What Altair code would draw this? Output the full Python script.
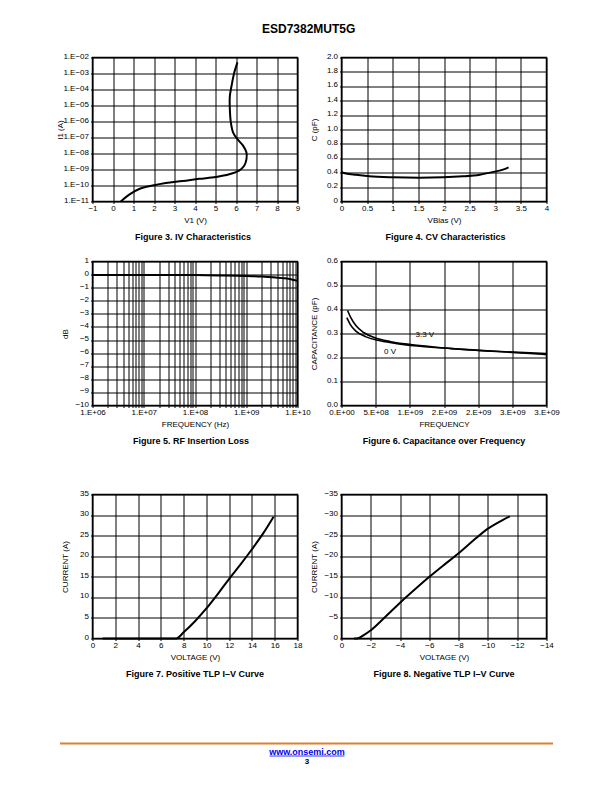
import altair as alt
import pandas as pd

FONT = "Liberation Sans"
W, H = 205, 144

# ---------------- data ----------------
# Figure 3: IV characteristics (curve order matters)
iv_v = [0.38, 0.79, 1.28, 1.93, 2.58, 3.39, 4.2, 5.02, 5.67, 6.15, 6.4, 6.51, 6.51, 6.35, 6.07, 5.86, 5.75, 5.70, 5.70, 5.78, 5.91, 6.07]
iv_i = [1e-11, 2.7e-11, 6e-11, 1.0e-10, 1.45e-10, 1.9e-10, 2.6e-10, 3.4e-10, 5e-10, 8.5e-10, 1.7e-9, 4.5e-9,
        1.15e-8, 3e-8, 7.8e-8, 2e-7, 8.5e-7, 5.7e-6, 3.8e-5, 1.6e-4, 1.07e-3, 5e-3]
iv_xticks = [-1, 0, 1, 2, 3, 4, 5, 6, 7, 8, 9]
iv_yticks = [1e-11, 1e-10, 1e-9, 1e-8, 1e-7, 1e-6, 1e-5, 1e-4, 1e-3, 1e-2]
iv_ylabels = ["1.E\u221211", "1.E\u221210", "1.E\u221209", "1.E\u221208", "1.E\u221207",
              "1.E\u221206", "1.E\u221205", "1.E\u221204", "1.E\u221203", "1.E\u221202"]

# Figure 4: CV characteristics
cv_v = [0, 0.085, 0.28, 0.54, 1.0, 1.52, 1.98, 2.37, 2.7, 2.99, 3.15, 3.26]
cv_c = [0.406, 0.39, 0.37, 0.35, 0.336, 0.331, 0.336, 0.35, 0.373, 0.415, 0.443, 0.475]
cv_xticks = [0, 0.5, 1, 1.5, 2, 2.5, 3, 3.5, 4]
cv_yticks = [0, 0.2, 0.4, 0.6, 0.8, 1.0, 1.2, 1.4, 1.6, 1.8, 2.0]

# Figure 5: RF insertion loss
rf_f = [1e6, 1e7, 1e8, 3e8, 1e9, 2e9, 3e9, 5e9, 7e9, 1e10]
rf_db = [-0.03, -0.03, -0.04, -0.06, -0.1, -0.15, -0.2, -0.27, -0.33, -0.48]
rf_decades = [1e6, 1e7, 1e8, 1e9, 1e10]
rf_decade_labels = ["1.E+06", "1.E+07", "1.E+08", "1.E+09", "1.E+10"]
rf_grid = [k * 10 ** n for n in range(6, 10) for k in range(1, 10)] + [10 ** 10]
rf_yticks = list(range(-10, 2))

# Figure 6: capacitance over frequency
cf_f_33 = [0.088e9, 0.136e9, 0.21e9, 0.33e9, 0.48e9, 0.72e9, 1.01e9, 1.35e9, 1.84e9, 2.33e9, 3.0e9]
cf_c_33 = [0.396, 0.366, 0.333, 0.303, 0.283, 0.266, 0.254, 0.244, 0.233, 0.225, 0.216]
cf_f_0 = [0.078e9, 0.127e9, 0.21e9, 0.36e9, 0.53e9, 0.77e9, 1.11e9, 1.6e9, 2.13e9, 2.57e9, 3.0e9]
cf_c_0 = [0.366, 0.338, 0.31, 0.286, 0.272, 0.26, 0.248, 0.237, 0.227, 0.22, 0.212]
cf_xticks = [0, 5e8, 1e9, 1.5e9, 2e9, 2.5e9, 3e9]
cf_xlabels = ["0.E+00", "5.E+08", "1.E+09", "2.E+09", "2.E+09", "3.E+09", "3.E+09"]
cf_yticks = [0, 0.1, 0.2, 0.3, 0.4, 0.5, 0.6]
cf_ann_text = ["3.3 V", "0 V"]
cf_ann_f = [1.22e9, 0.71e9]
cf_ann_c = [0.293, 0.221]

# Figure 7: positive TLP
ptlp_v = [0.9, 7.35, 8.0, 9.0, 10.0, 11.0, 12.0, 13.0, 14.0, 15.0, 15.9]
ptlp_i = [0, 0, 1.5, 4.2, 7.3, 10.8, 14.5, 18.0, 21.7, 25.6, 29.6]
ptlp_xticks = list(range(0, 19, 2))
ptlp_yticks = list(range(0, 36, 5))

# Figure 8: negative TLP
ntlp_v = [-0.85, -1.05, -1.6, -2.0, -3.0, -4.0, -5.0, -6.0, -7.0, -8.0, -9.0, -10.0, -11.0, -11.5]
ntlp_i = [0, 0, -1.0, -2.0, -5.3, -8.7, -11.9, -15.0, -17.9, -20.7, -23.8, -26.7, -28.8, -29.7]
ntlp_xticks = list(range(0, -15, -2))
ntlp_yticks = list(range(0, -36, -5))

captions = ["Figure 3. IV Characteristics", "Figure 4. CV Characteristics",
            "Figure 5. RF Insertion Loss", "Figure 6. Capacitance over Frequency",
            "Figure 7. Positive TLP I\u2013V Curve", "Figure 8. Negative TLP I\u2013V Curve"]
page_title = "ESD7382MUT5G"
footer_url = "www.onsemi.com"
footer_page = "3"

# ---------------- helpers ----------------
def chained(values, labels):
    expr = "''"
    for v, l in reversed(list(zip(values, labels))):
        expr = f"abs(datum.value - {v!r}) < {abs(v) * 1e-6 + 1e-30!r} ? '{l}' : ({expr})"
    return expr


def xax(title, values, **kw):
    return alt.Axis(title=title, values=values, titleX=W / 2, titleY=19, titleBaseline="middle",
                    titleAlign="center", labelFlush=False, labelOverlap=False, labelPadding=1, **kw)


def yax(title, values, tx=-27.5, **kw):
    return alt.Axis(title=title, values=values, titleX=tx, titleY=H / 2, titleAngle=270,
                    titleBaseline="middle", titleAlign="center", labelOverlap=False, labelFlush=False,
                    labelPadding=2, labelOffset=-1.5, **kw)


def cap(text, dx=0):
    return alt.TitleParams(text, orient="bottom", anchor="middle", frame="group", font=FONT, fontSize=9,
                           fontWeight="bold", color="black", offset=8, dx=dx)


def framed(ch, text, dx=0):
    return ch.properties(width=W, height=H, title=cap(text, dx),
                         view=alt.ViewBackground(stroke="black", strokeWidth=1.5))

# ---------------- Figure 3 ----------------
df3 = pd.DataFrame({"v": iv_v, "i": iv_i, "k": list(range(len(iv_v)))})
c3 = alt.Chart(df3).mark_line(color="black", strokeWidth=2, interpolate="catmull-rom").encode(
    x=alt.X("v:Q", scale=alt.Scale(domain=[-1, 9], nice=False, zero=False), axis=xax("V1 (V)", iv_xticks, format="d")),
    y=alt.Y("i:Q", scale=alt.Scale(type="log", domain=[1e-11, 1e-2]),
            axis=yax("I1 (A)", iv_yticks, tx=-32.5, labelExpr=chained(iv_yticks, iv_ylabels))),
    order="k:Q",
)
c3 = framed(c3, captions[0], -2)

# ---------------- Figure 4 ----------------
df4 = pd.DataFrame({"v": cv_v, "c": cv_c})
c4 = alt.Chart(df4).mark_line(color="black", strokeWidth=2, interpolate="monotone").encode(
    x=alt.X("v:Q", scale=alt.Scale(domain=[0, 4], nice=False), axis=xax("VBias (V)", cv_xticks, format="~g")),
    y=alt.Y("c:Q", scale=alt.Scale(domain=[0, 2], nice=False),
            axis=yax("C (pF)", cv_yticks, labelExpr="datum.value == 0 ? '0' : format(datum.value, '.1f')")),
)
c4 = framed(c4, captions[1], 1.5)

# ---------------- Figure 5 ----------------
df5 = pd.DataFrame({"f": rf_f, "db": rf_db})
c5 = alt.Chart(df5).mark_line(color="black", strokeWidth=2, interpolate="monotone").encode(
    x=alt.X("f:Q", scale=alt.Scale(type="log", domain=[1e6, 1e10], nice=False),
            axis=xax("FREQUENCY (Hz)", rf_grid, labelExpr=chained(rf_decades, rf_decade_labels))),
    y=alt.Y("db:Q", scale=alt.Scale(domain=[-10, 1], nice=False), axis=yax("dB", rf_yticks, format="d")),
)
c5 = framed(c5, captions[2], -4)

# ---------------- Figure 6 ----------------
df6 = pd.DataFrame({
    "f": cf_f_33 + cf_f_0,
    "c": cf_c_33 + cf_c_0,
    "s": ["3.3 V"] * len(cf_f_33) + ["0 V"] * len(cf_f_0),
})
ann6 = pd.DataFrame({"f": cf_ann_f, "c": cf_ann_c, "t": cf_ann_text})
x6 = alt.X("f:Q", scale=alt.Scale(domain=[0, 3e9], nice=False),
           axis=xax("FREQUENCY", cf_xticks,
                    labelExpr="[" + ",".join(f"'{l}'" for l in cf_xlabels) + "][round(datum.value / 5e8)]"))
y6 = alt.Y("c:Q", scale=alt.Scale(domain=[0, 0.6], nice=False),
           axis=yax("CAPACITANCE (pF)", cf_yticks, format=".1f"))
lines6 = alt.Chart(df6).mark_line(color="black", strokeWidth=1.6, interpolate="monotone").encode(
    x=x6, y=y6, detail="s:N")
text6 = alt.Chart(ann6).mark_text(font=FONT, fontSize=8, color="black").encode(x=x6, y=y6, text="t:N")
c6 = framed(alt.layer(lines6, text6), captions[3])

# ---------------- Figure 7 ----------------
df7 = pd.DataFrame({"v": ptlp_v, "i": ptlp_i})
c7 = alt.Chart(df7).mark_line(color="black", strokeWidth=2, interpolate="monotone").encode(
    x=alt.X("v:Q", scale=alt.Scale(domain=[0, 18], nice=False), axis=xax("VOLTAGE (V)", ptlp_xticks, format="d")),
    y=alt.Y("i:Q", scale=alt.Scale(domain=[0, 35], nice=False), axis=yax("CURRENT (A)", ptlp_yticks, format="d")),
)
c7 = framed(c7, captions[4])

# ---------------- Figure 8 ----------------
df8 = pd.DataFrame({"v": ntlp_v, "i": ntlp_i})
c8 = alt.Chart(df8).mark_line(color="black", strokeWidth=2, interpolate="monotone").encode(
    x=alt.X("v:Q", scale=alt.Scale(domain=[-14, 0], nice=False, reverse=True),
            axis=xax("VOLTAGE (V)", ntlp_xticks, format="d")),
    y=alt.Y("i:Q", scale=alt.Scale(domain=[-35, 0], nice=False, reverse=True),
            axis=yax("CURRENT (A)", ntlp_yticks, format="d")),
)
c8 = framed(c8, captions[5])

# ---------------- spacers & footer ----------------
def spacer(h):
    return alt.Chart(pd.DataFrame({"a": [0]})).mark_point(opacity=0).encode(
        x=alt.value(0), y=alt.value(0)).properties(width=W, height=h)

fdf = pd.DataFrame({"url": [footer_url], "page": [footer_page]})
fbase = alt.Chart(fdf)
footer = alt.layer(
    fbase.mark_rule(color="#D9822B", strokeWidth=2).encode(x=alt.value(-32.5), x2=alt.value(460.5), y=alt.value(105)),
    fbase.mark_text(font=FONT, fontSize=9, fontWeight="bold", color="#0000EE").encode(
        text="url:N", x=alt.value(214.5), y=alt.value(113)),
    fbase.mark_rule(color="#0000EE", strokeWidth=0.8).encode(x=alt.value(177), x2=alt.value(252), y=alt.value(117.5)),
    fbase.mark_text(font=FONT, fontSize=8, fontWeight="bold", color="black").encode(
        text="page:N", x=alt.value(214.5), y=alt.value(123.5)),
).properties(width=W, height=130)

chart = alt.concat(
    c3, c4, spacer(60), spacer(60), c5, c6, spacer(89), spacer(89), c7, c8, footer,
    columns=2, spacing={"row": 0, "column": 44}, bounds="flush",
).properties(
    title=alt.TitleParams(page_title, font=FONT, fontSize=12, fontWeight="bold", color="black",
                          anchor="middle", offset=15, dx=1),
    padding={"left": 46.5, "top": 14.5, "right": 5, "bottom": 5},
).configure_view(
    stroke="transparent"
).configure_axis(
    labelFont=FONT, titleFont=FONT, labelFontSize=8, titleFontSize=8, labelColor="black",
    titleColor="black", titleFontWeight="normal", gridColor="black", gridOpacity=1, gridWidth=1,
    domain=False, tickColor="black", tickSize=2,
)

chart.save("out.html", embed_options={"renderer": "svg", "actions": False})
